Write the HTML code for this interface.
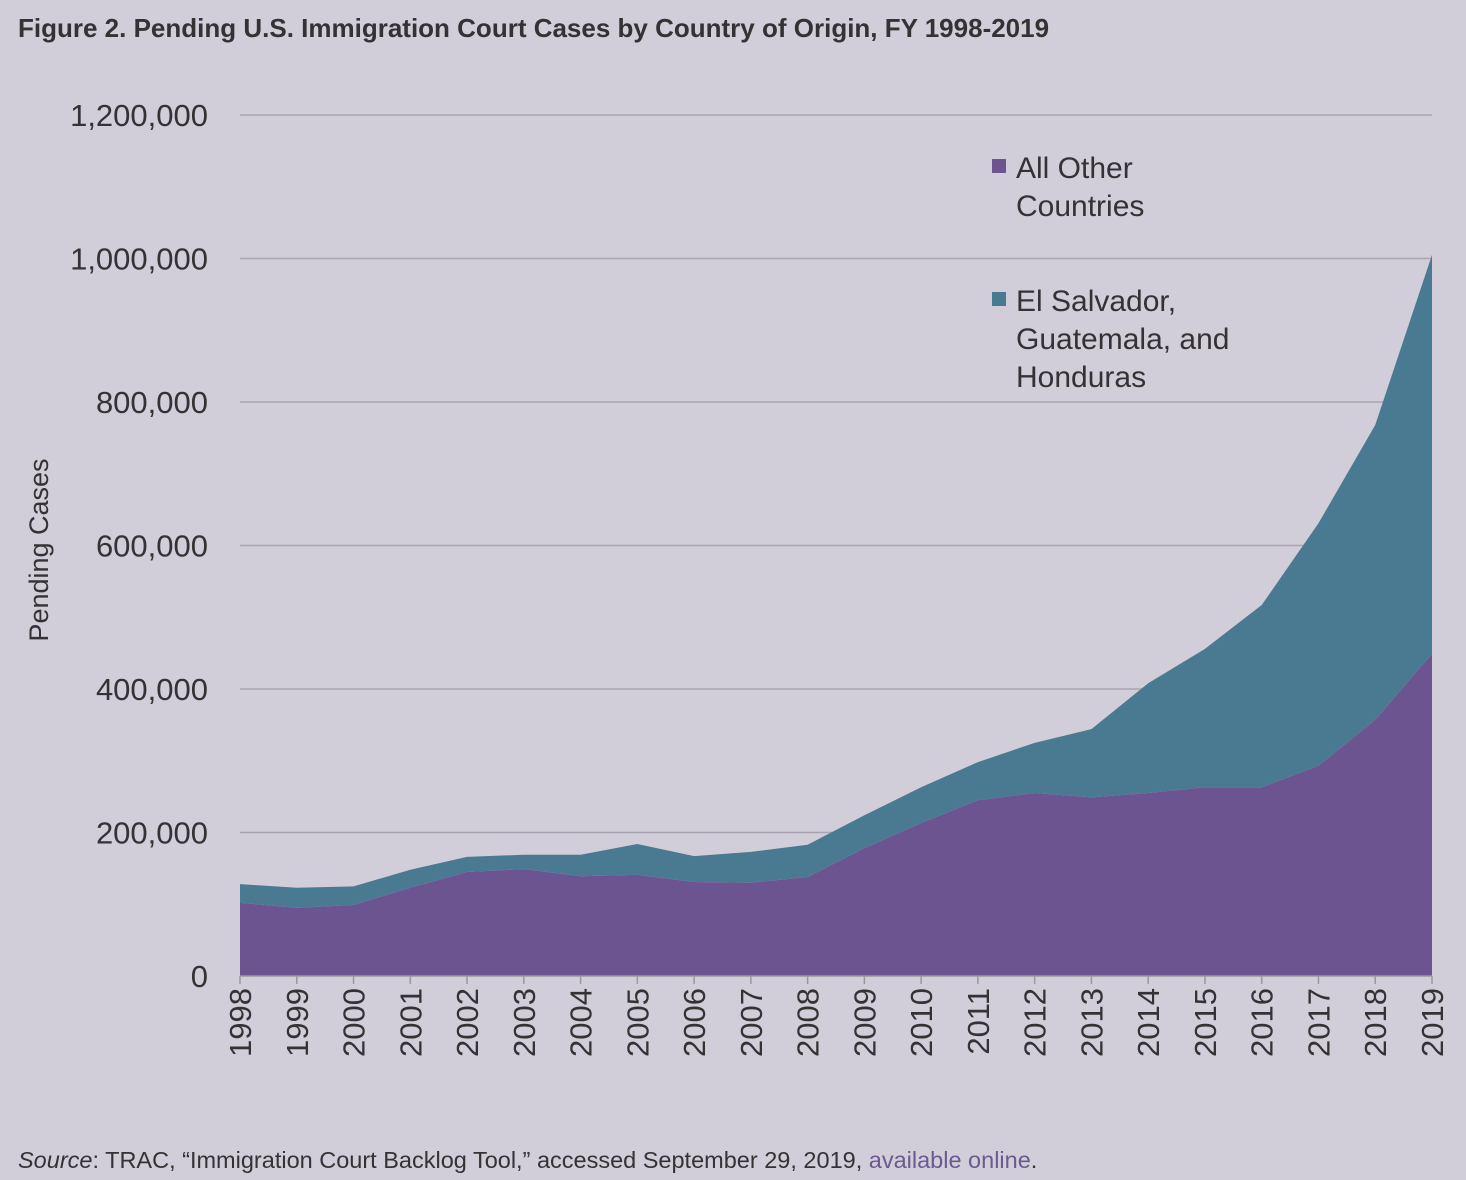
<!DOCTYPE html>
<html><head><meta charset="utf-8"><style>
body{margin:0;width:1466px;height:1180px;background:#d1cdd9;font-family:"Liberation Sans",sans-serif;overflow:hidden}
svg{position:absolute;left:0;top:0}
</style></head><body>
<svg id="c" width="1466" height="1180">
<text x="18" y="37" font-size="26" font-weight="bold" fill="#333">Figure 2. Pending U.S. Immigration Court Cases by Country of Origin, FY 1998-2019</text>
<text transform="translate(48,550) rotate(-90)" text-anchor="middle" font-size="27" fill="#333">Pending Cases</text>
<g>
<rect x="992" y="159" width="14" height="14" fill="#6b5490"/>
<text x="1016" y="178" font-size="30" fill="#333"><tspan x="1016">All Other</tspan><tspan x="1016" dy="38">Countries</tspan></text>
<rect x="992" y="292" width="14" height="14" fill="#4a7a92"/>
<text x="1016" y="311" font-size="30" fill="#333"><tspan x="1016">El Salvador,</tspan><tspan x="1016" dy="38">Guatemala, and</tspan><tspan x="1016" dy="38">Honduras</tspan></text>
</g>
<text x="18" y="1168" font-size="23.5" fill="#333"><tspan font-style="italic">Source</tspan>: TRAC, “Immigration Court Backlog Tool,” accessed September 29, 2019, <tspan fill="#6b5a8f">available online</tspan>.</text>
</svg>
<script>
const years=[1998,1999,2000,2001,2002,2003,2004,2005,2006,2007,2008,2009,2010,2011,2012,2013,2014,2015,2016,2017,2018,2019];
const otherCountries=[102000,95000,99000,123000,145000,149000,139000,141000,131000,130000,138000,178000,213000,245000,255000,249000,255000,263000,263000,293000,357000,449000];
const northernTriangle=[26000,28000,26000,25000,21000,20000,30000,43000,36000,43000,45000,46000,50000,53000,70000,95000,153000,193000,254000,338000,411000,556000];
const yTicks=[0,200000,400000,600000,800000,1000000,1200000];
const svg=document.getElementById('c');const NS='http://www.w3.org/2000/svg';
const x0=240,x1=1432,y0=976,y1=115,yMax=1200000;
const X=i=>x0+(x1-x0)*i/(years.length-1);
const Y=v=>y0-(y0-y1)*v/yMax;
function mk(t,a){const e=document.createElementNS(NS,t);for(const k in a)e.setAttribute(k,a[k]);svg.appendChild(e);return e;}
yTicks.forEach(v=>{
 if(v>0){const l=mk('line',{x1:x0,x2:x1,y1:Y(v),y2:Y(v),stroke:'#a9a4b3','stroke-width':1.5});
 
 }
 const t=mk('text',{x:208,y:Y(v)+11,'text-anchor':'end','font-size':31,fill:'#333'});t.textContent=v.toLocaleString('en-US');
 
 
});
const topPts=[],botPts=[];
years.forEach((y,i)=>{topPts.push(X(i)+','+Y(otherCountries[i]+northernTriangle[i]));botPts.push(X(i)+','+Y(otherCountries[i]));});
const a1=mk('polygon',{points:topPts.join(' ')+' '+botPts.slice().reverse().join(' '),fill:'#4a7a92'});


const a2=mk('polygon',{points:botPts.join(' ')+' '+x1+','+y0+' '+x0+','+y0,fill:'#6b5490'});


const ax=mk('line',{x1:x0,x2:x1,y1:y0,y2:y0,stroke:'#999','stroke-width':1.5});


years.forEach((y,i)=>{
 const tk=mk('line',{x1:X(i),x2:X(i),y1:y0,y2:y0+8,stroke:'#999','stroke-width':1.5});
 
 
 const t=mk('text',{transform:`translate(${X(i)+11},${y0+12}) rotate(-90)`,'text-anchor':'end','font-size':31,fill:'#333'});t.textContent=y;
 
 
});
</script>
</body></html>
